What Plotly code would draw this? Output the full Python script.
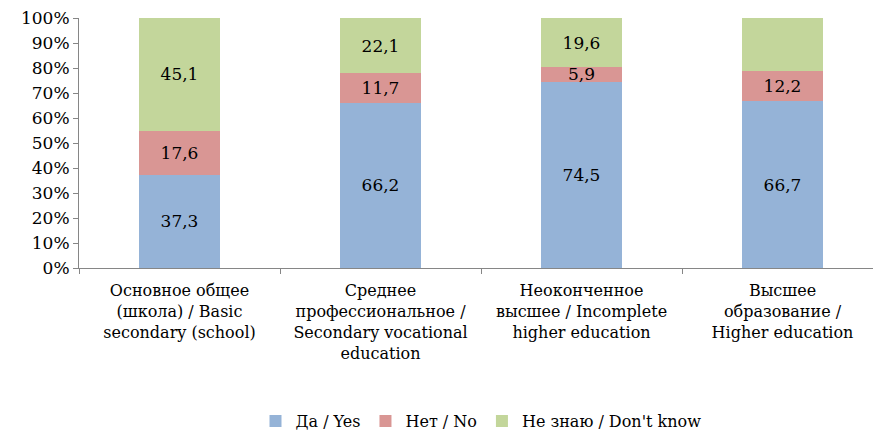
import plotly.graph_objects as go

categories = [
    "Основное общее<br>(школа) / Basic<br>secondary (school)",
    "Среднее<br>профессиональное /<br>Secondary vocational<br>education",
    "Неоконченное<br>высшее / Incomplete<br>higher education",
    "Высшее<br>образование /<br>Higher education",
]
yes_vals = [37.3, 66.2, 74.5, 66.7]
no_vals = [17.6, 11.7, 5.9, 12.2]
dk_vals = [45.1, 22.1, 19.6, 21.2]
series_names = ["Да / Yes", "Нет / No", "Не знаю / Don't know"]
colors = ["#95B3D7", "#D99694", "#C3D69B"]
y_ticks = [0, 10, 20, 30, 40, 50, 60, 70, 80, 90, 100]
y_tick_labels = [f"{v}%" for v in y_ticks]

FONT = "DejaVu Serif"

fig = go.Figure()
for name, vals, col in zip(series_names, [yes_vals, no_vals, dk_vals], colors):
    fig.add_trace(go.Bar(
        x=categories, y=vals, name=name,
        marker=dict(color=col, line=dict(width=0)),
        text=[f"{v:.1f}".replace(".", ",") for v in vals],
        textposition="inside", insidetextanchor="middle",
        textangle=0, constraintext="none",
        textfont=dict(family=FONT, size=17, color="black"),
        insidetextfont=dict(family=FONT, size=17, color="black"),
        cliponaxis=False,
    ))

fig.update_layout(
    barmode="stack",
    bargap=0.6,
    width=881, height=430,
    margin=dict(l=71, r=6, t=10, b=170),
    plot_bgcolor="white", paper_bgcolor="white",
    font=dict(family=FONT, size=16, color="black"),
    showlegend=True,
    legend=dict(orientation="h", x=0.5, xanchor="center",
                yref="container", y=0.0, yanchor="bottom",
                font=dict(family=FONT, size=16, color="black"), traceorder="normal",
                itemwidth=30),
    uniformtext=dict(mode=False),
)
fig.update_xaxes(
    showline=True, linecolor="#868686", linewidth=1,
    ticks="outside", tickson="boundaries", ticklen=5, tickcolor="#868686",
    tickfont=dict(family=FONT, size=16, color="black"), tickangle=0,
    showgrid=False, ticklabelstandoff=8, automargin=False,
)
fig.update_yaxes(
    range=[0, 100], tickmode="array", tickvals=y_ticks, ticktext=y_tick_labels,
    showline=True, linecolor="#868686", linewidth=1,
    ticks="outside", ticklen=5, tickcolor="#868686",
    tickfont=dict(family=FONT, size=17, color="black"),
    showgrid=False, zeroline=False, automargin=False, ticklabeloverflow="allow",
)

fig.write_html("out.html")
